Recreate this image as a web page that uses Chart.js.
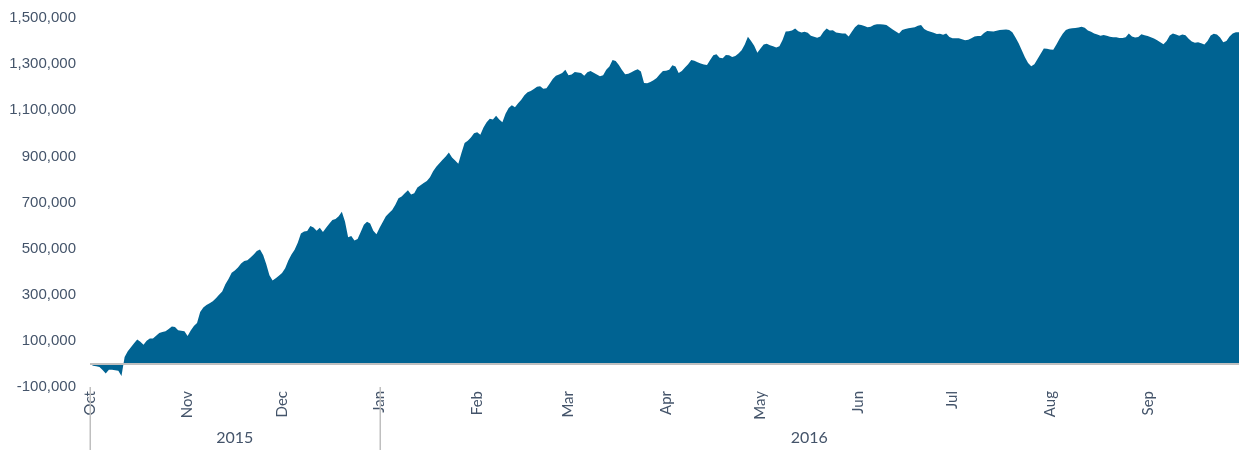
<!DOCTYPE html>
<html>
<head>
<meta charset="utf-8">
<script src="https://cdn.jsdelivr.net/npm/chart.js@4.4.1/dist/chart.umd.min.js"></script>
<style>
  html, body { margin: 0; padding: 0; background: #ffffff; }
  #wrap { width: 1239px; height: 450px; position: relative; }
</style>
</head>
<body>
<div id="wrap"><canvas id="c" width="1239" height="450"></canvas></div>
<script>
// ---- Data (daily, starting 2015-10-01) ----
const startDate = '2015-10-01';
const endDate = '2016-09-30';
const cumulativeValues = [
  0, -8000, -10000, -13000, -26000, -42000, -25000, -25000, -27000, -30000,
  -52000, 30000, 55000, 72000, 90000, 106000, 96000, 83000, 101000, 110000,
  110000, 122000, 134000, 139000, 142000, 151000, 162000, 160000, 146000, 144000,
  142000, 121000, 145000, 165000, 178000, 225000, 245000, 256000, 263000, 272000,
  285000, 300000, 314000, 345000, 368000, 395000, 405000, 418000, 436000, 446000,
  450000, 461000, 474000, 490000, 496000, 472000, 432000, 385000, 362000, 372000,
  382000, 394000, 415000, 448000, 475000, 495000, 525000, 566000, 574000, 576000,
  598000, 592000, 578000, 590000, 572000, 590000, 608000, 624000, 628000, 640000,
  660000, 618000, 549000, 555000, 535000, 542000, 572000, 604000, 616000, 609000,
  578000, 562000, 590000, 615000, 640000, 655000, 668000, 690000, 718000, 726000,
  740000, 753000, 735000, 740000, 765000, 775000, 785000, 793000, 810000, 835000,
  855000, 870000, 885000, 900000, 917000, 895000, 882000, 868000, 915000, 958000,
  968000, 982000, 1000000, 1005000, 994000, 1025000, 1048000, 1063000, 1060000, 1076000,
  1060000, 1048000, 1085000, 1110000, 1122000, 1113000, 1130000, 1145000, 1165000, 1178000,
  1183000, 1192000, 1202000, 1204000, 1193000, 1195000, 1215000, 1235000, 1250000, 1255000,
  1262000, 1276000, 1252000, 1255000, 1266000, 1264000, 1262000, 1250000, 1265000, 1270000,
  1263000, 1255000, 1247000, 1252000, 1276000, 1290000, 1318000, 1314000, 1296000, 1275000,
  1256000, 1258000, 1265000, 1272000, 1278000, 1268000, 1218000, 1217000, 1222000, 1230000,
  1240000, 1256000, 1270000, 1271000, 1276000, 1295000, 1290000, 1262000, 1270000, 1285000,
  1300000, 1318000, 1315000, 1308000, 1303000, 1298000, 1296000, 1318000, 1338000, 1343000,
  1328000, 1326000, 1340000, 1339000, 1331000, 1335000, 1346000, 1360000, 1385000, 1419000,
  1400000, 1380000, 1349000, 1368000, 1385000, 1388000, 1382000, 1378000, 1372000, 1378000,
  1405000, 1441000, 1443000, 1446000, 1455000, 1443000, 1437000, 1440000, 1436000, 1423000,
  1419000, 1414000, 1420000, 1440000, 1455000, 1446000, 1447000, 1437000, 1435000, 1433000,
  1433000, 1420000, 1440000, 1460000, 1472000, 1470000, 1465000, 1460000, 1462000, 1470000,
  1473000, 1473000, 1472000, 1470000, 1460000, 1450000, 1442000, 1433000, 1448000, 1452000,
  1456000, 1458000, 1460000, 1466000, 1470000, 1452000, 1445000, 1440000, 1436000, 1431000,
  1432000, 1427000, 1433000, 1418000, 1412000, 1412000, 1412000, 1408000, 1404000, 1406000,
  1412000, 1420000, 1422000, 1422000, 1435000, 1444000, 1443000, 1441000, 1445000, 1448000,
  1449000, 1450000, 1448000, 1438000, 1415000, 1390000, 1360000, 1330000, 1305000, 1291000,
  1300000, 1322000, 1345000, 1368000, 1367000, 1363000, 1362000, 1385000, 1410000, 1432000,
  1448000, 1453000, 1456000, 1457000, 1459000, 1462000, 1458000, 1446000, 1440000, 1433000,
  1428000, 1423000, 1426000, 1423000, 1419000, 1417000, 1416000, 1413000, 1413000, 1416000,
  1433000, 1420000, 1415000, 1418000, 1430000, 1425000, 1422000, 1416000, 1411000, 1404000,
  1395000, 1386000, 1400000, 1424000, 1433000, 1428000, 1423000, 1428000, 1425000, 1410000,
  1398000, 1393000, 1395000, 1391000, 1385000, 1400000, 1424000, 1432000, 1428000, 1415000,
  1395000, 1400000, 1420000, 1433000, 1438000, 1438000
];
const monthTickDates = ['2015-10-01','2015-11-01','2015-12-01','2016-01-01','2016-02-01','2016-03-01',
                        '2016-04-01','2016-05-01','2016-06-01','2016-07-01','2016-08-01','2016-09-01'];
const monthLabels = ['Oct','Nov','Dec','Jan','Feb','Mar','Apr','May','Jun','Jul','Aug','Sep'];
const yearLabels = ['2015', '2016'];
const yearStartDates = ['2015-10-01', '2016-01-01'];
const yTickMin = -100000, yTickMax = 1500000, yTickStep = 200000;

// ---- helpers ----
function dayOffset(iso) {
  const p = s => { const a = s.split('-').map(Number); return Date.UTC(a[0], a[1]-1, a[2]); };
  return Math.round((p(iso) - p(startDate)) / 86400000);
}
const lastDay = dayOffset(endDate);
const points = cumulativeValues.map((v, i) => ({ x: i, y: v }));
const monthTickOffsets = monthTickDates.map(dayOffset);
const labelByOffset = {};
monthTickOffsets.forEach((o, i) => labelByOffset[o] = monthLabels[i]);

const textColor = '#44546A';
const fillColor = '#006392';
const axisGray = '#BFBFBF';

const extrasPlugin = {
  id: 'extras',
  afterDatasetsDraw(chart) {
    const ctx = chart.ctx, ys = chart.scales.y, ca = chart.chartArea;
    ctx.save();
    const y0 = ys.getPixelForValue(0);
    ctx.strokeStyle = axisGray;
    ctx.lineWidth = 2;
    ctx.beginPath();
    ctx.moveTo(ca.left, y0);
    ctx.lineTo(ca.right, y0);
    ctx.stroke();
    ctx.restore();
  },
  afterDraw(chart) {
    const ctx = chart.ctx, xs = chart.scales.x, ca = chart.chartArea;
    ctx.save();
    ctx.strokeStyle = axisGray;
    ctx.lineWidth = 1.5;
    const bounds = yearStartDates.map(d => xs.getPixelForValue(dayOffset(d)));
    bounds.forEach(px => {
      ctx.beginPath();
      ctx.moveTo(Math.round(px) + 0.25, ca.bottom);
      ctx.lineTo(Math.round(px) + 0.25, chart.height);
      ctx.stroke();
    });
    const ends = bounds.slice(1).concat([xs.getPixelForValue(lastDay)]);
    ctx.fillStyle = textColor;
    ctx.font = '16px Lato, "Liberation Sans", sans-serif';
    ctx.textAlign = 'center';
    ctx.textBaseline = 'middle';
    yearLabels.forEach((lab, i) => {
      ctx.fillText(lab, (bounds[i] + ends[i]) / 2, 438);
    });
    ctx.restore();
  }
};

new Chart(document.getElementById('c'), {
  type: 'line',
  data: {
    datasets: [{
      data: points,
      backgroundColor: fillColor,
      borderColor: fillColor,
      borderWidth: 0,
      pointRadius: 0,
      tension: 0,
      fill: 'origin'
    }]
  },
  options: {
    responsive: false,
    animation: false,
    events: [],
    layout: { padding: { top: 18, right: 0, bottom: 0, left: 0 } },
    plugins: { legend: { display: false }, tooltip: { enabled: false } },
    scales: {
      x: {
        type: 'linear',
        min: 0,
        max: lastDay,
        grid: { display: false, drawTicks: false },
        border: { display: false },
        afterBuildTicks(scale) { scale.ticks = monthTickOffsets.map(v => ({ value: v })); },
        afterFit(scale) { scale.height = 63; scale.paddingLeft = 0; scale.paddingRight = 0; },
        ticks: {
          autoSkip: false,
          maxRotation: 90,
          minRotation: 90,
          padding: 4,
          color: textColor,
          font: { family: 'Lato, "Liberation Sans", sans-serif', size: 15 },
          callback: v => labelByOffset[v] || ''
        }
      },
      y: {
        type: 'linear',
        min: yTickMin,
        max: yTickMax,
        grid: { display: false, drawTicks: false },
        border: { display: false },
        afterFit(scale) { scale.width = 90; scale.paddingTop = 0; scale.paddingBottom = 0; },
        ticks: {
          stepSize: yTickStep,
          padding: 14,
          color: textColor,
          font: { family: '"Liberation Sans", Arial, sans-serif', size: 15 },
          callback: v => v.toLocaleString('en-US')
        }
      }
    }
  },
  plugins: [extrasPlugin]
});
</script>
</body>
</html>
